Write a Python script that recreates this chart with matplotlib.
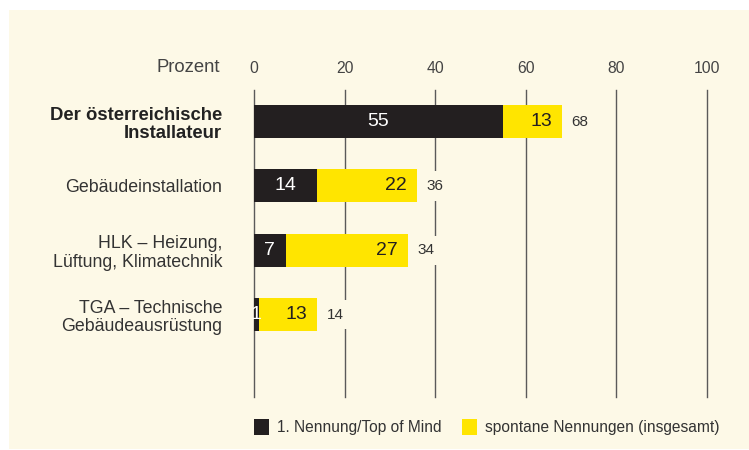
import matplotlib
matplotlib.use("Agg")
import matplotlib.pyplot as plt
from matplotlib.patches import Rectangle, Patch

plt.rcParams['font.family'] = ['Liberation Sans', 'DejaVu Sans']

categories = ["Der österreichische\nInstallateur", "Gebäudeinstallation",
              "HLK – Heizung,\nLüftung, Klimatechnik", "TGA – Technische\nGebäudeausrüstung"]
top_of_mind = [55, 14, 7, 1]
spontan_extra = [13, 22, 27, 13]
totals = [68, 36, 34, 14]
xticks = [0, 20, 40, 60, 80, 100]
legend_labels = ["1. Nennung/Top of Mind", "spontane Nennungen (insgesamt)"]

BLACK = '#231f20'
YELLOW = '#ffe500'
BG = '#fdf9e7'
W, H = 749, 450

fig = plt.figure(figsize=(W / 100, H / 100), dpi=100)
fig.patch.set_facecolor('white')
fig.patches.append(Rectangle((9 / W, 1 / H), (W - 9) / W, (449 - 10) / H,
                             transform=fig.transFigure, facecolor=BG,
                             edgecolor='none', zorder=-5))

ax = fig.add_axes([254 / W, 1 - 397 / H, (707 - 254) / W, (397 - 90) / H])
ax.set_zorder(2)
ax.set_facecolor('none')
ax.set_xlim(0, 100)
ax.set_ylim(4.28, -0.49)
for s in ax.spines.values():
    s.set_visible(False)

ypos = list(range(len(categories)))
ax.barh(ypos, top_of_mind, height=0.51, color=BLACK, zorder=3)
ax.barh(ypos, spontan_extra, left=top_of_mind, height=0.51, color=YELLOW, zorder=3)

ax.set_xticks(xticks)
ax.xaxis.tick_top()
ax.tick_params(axis='x', length=0, pad=10, labelsize=11.3, labelcolor='#444444')
ax.grid(axis='x', color='#5a5a5a', linewidth=1)
ax.set_axisbelow(True)
for gl in ax.get_xgridlines():
    gl.set_clip_on(False)

ax.set_yticks(ypos)
ax.set_yticklabels(categories)
ax.tick_params(axis='y', length=0, pad=23, labelsize=12.8, labelcolor='#333333')
for i, lab in enumerate(ax.get_yticklabels()):
    lab.set_multialignment('right')
    lab.set_linespacing(1.12)
    if i == 0:
        lab.set_fontweight('bold')
        lab.set_fontsize(13.3)
        lab.set_color('#222222')

for i in ypos:
    ax.text(top_of_mind[i] / 2, i, str(top_of_mind[i]), ha='center', va='center',
            color='white', fontsize=14, zorder=4)
    end = top_of_mind[i] + spontan_extra[i]
    ax.annotate(str(spontan_extra[i]), (end, i), xytext=(-7.2, 0),
                textcoords='offset points', ha='right', va='center',
                color=BLACK, fontsize=14, zorder=4)
    ax.annotate(str(totals[i]), (end, i), xytext=(6.5, 0),
                textcoords='offset points', ha='left', va='center',
                color='#333333', fontsize=11, zorder=4,
                bbox=dict(boxstyle='square,pad=0.5', facecolor=BG, edgecolor='none'))

fig.text(220 / W, 1 - 67 / H, "Prozent", ha='right', va='center',
         fontsize=13.3, color='#444444')

handles = [Patch(facecolor=BLACK, edgecolor='none'),
           Patch(facecolor=YELLOW, edgecolor='none')]
leg = fig.legend(handles, legend_labels, loc='center left',
                 bbox_to_anchor=(254 / W, 1 - 427 / H), ncol=2, frameon=False,
                 fontsize=11.2, handlelength=0.95, handleheight=1.25, handletextpad=0.5,
                 columnspacing=1.35, borderpad=0, borderaxespad=0, labelcolor='#333333')
leg.set_zorder(3)

fig.savefig('out.png', dpi=100, facecolor='white')
